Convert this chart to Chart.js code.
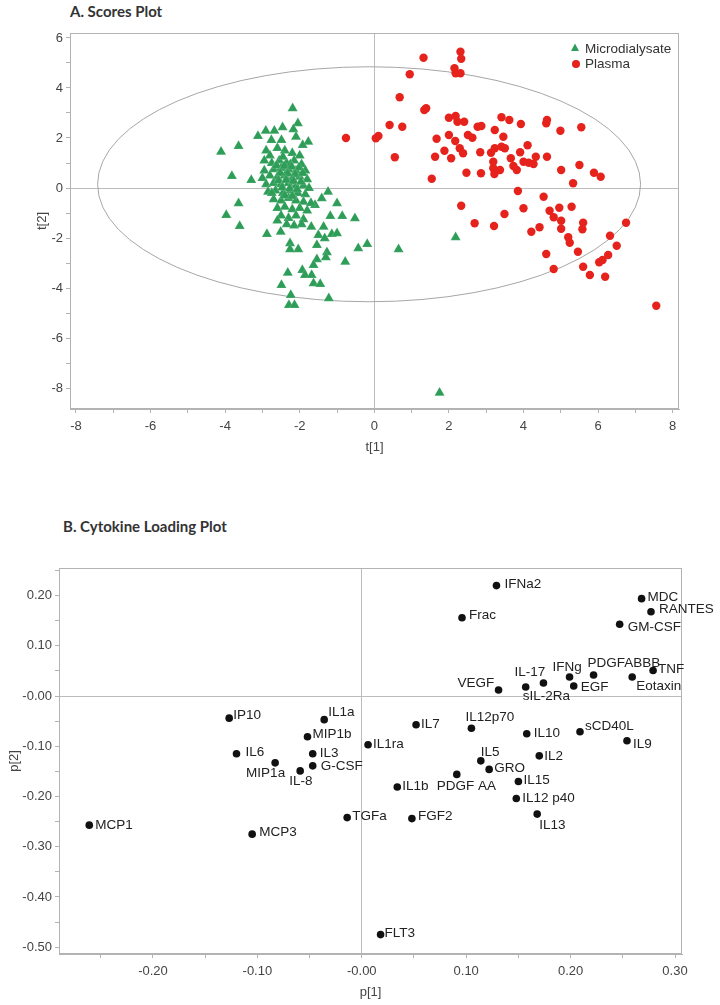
<!doctype html>
<html lang="en">
<head>
  <meta charset="utf-8">
  <title>Scores Plot &amp; Cytokine Loading Plot</title>
  <style>
    html, body { margin: 0; padding: 0; background: #fff; }
    body {
      position: relative;
      width: 720px;
      height: 1005px;
      overflow: hidden;
      font-family: 'Liberation Sans', Arial, sans-serif;
    }
    .panel-title {
      position: absolute;
      font-family: Lato, 'Open Sans', sans-serif;
      font-weight: 700;
      font-size: 15px;
      line-height: 18px;
      color: #333;
      white-space: nowrap;
    }
    .chart-box { position: absolute; left: 0; width: 720px; }
    #boxA { top: 0; height: 460px; }
    #boxB { top: 500px; height: 505px; }
  </style>
</head>
<body>

  <div class="panel-title" style="left:70px; top:2px">A. Scores Plot</div>
  <div class="panel-title" style="left:63px; top:517px">B. Cytokine Loading Plot</div>

  <div class="chart-box" id="boxA"><canvas id="scoresChart"></canvas></div>
  <div class="chart-box" id="boxB"><canvas id="loadingChart"></canvas></div>

  <script src="https://cdn.jsdelivr.net/npm/chart.js"></script>
  <script>
    // ---- A. scores (t[1], t[2]) ----
    const microT1 = [
      -2.19, -2.05, -2.17, -2.91, -2.68, -2.46, -3.12, -3.64, -4.11, -2.76, -2.49, -2.10, -1.77, -1.92,
      -3.82, -3.30, -3.64, -3.97, -3.61, -2.88, -2.51, -1.24, -1.41, -1.00, -1.59, -0.86, -0.52, -1.18,
      -1.36, -1.69, -1.14, -1.00, -1.50, -1.33, -2.26, -2.04, -2.26, -1.54, -0.43, -1.27, -1.30, -1.54,
      -0.78, -1.63, -1.93, -2.32, -1.86, -1.68, -1.63, -1.45, -2.49, -2.24, -1.22, -2.29, -2.14, -0.19,
      0.65, 2.18, 1.75,
      -2.90, -2.80, -2.60, -2.40, -2.20, -2.00, -2.75, -2.55, -2.35, -2.15, -1.95, -1.85, -2.95, -2.70,
      -2.50, -2.30, -2.10, -3.00, -2.80, -2.60, -2.40, -2.20, -2.00, -1.80, -2.90, -2.70, -2.50, -2.30,
      -2.10, -1.90, -2.85, -2.65, -2.45, -2.25, -2.05, -1.85, -2.70, -2.50, -2.30, -2.10, -1.90, -2.60,
      -2.40, -2.20, -2.00, -1.80, -2.50, -2.30, -2.10, -1.90, -2.35, -2.15, -1.95, -2.60, -2.75, -2.95,
      -1.75, -1.70, -2.45, -2.25,
      -2.62, -2.42, -2.22, -2.02, -2.52, -2.32, -2.12, -1.92, -2.57, -2.37, -2.17, -1.97, -2.47, -2.27,
      -2.07, -2.40, -2.20
    ];
    const microT2 = [
      3.19, 2.59, 2.35, 2.29, 2.29, 2.43, 2.08, 1.68, 1.45, 1.92, 1.92, 2.05, 1.85, 1.72,
      0.48, 0.32, -0.61, -1.08, -1.52, -1.84, -1.75, -0.15, -0.41, -0.61, -0.68, -1.12, -1.21, -1.12,
      -1.55, -1.55, -1.84, -1.81, -1.88, -2.01, -2.21, -2.45, -2.45, -2.28, -2.41, -2.57, -2.77, -2.85,
      -2.95, -3.08, -3.28, -3.39, -3.48, -3.48, -3.81, -3.84, -3.88, -4.28, -4.41, -4.68, -4.68, -2.24,
      -2.45, -1.97, -8.19,
      1.50, 1.30, 1.60, 1.50, 1.40, 1.30, 1.00, 1.10, 1.00, 1.10, 0.95, 0.70, 0.70, 0.75,
      0.80, 0.75, 0.70, 0.40, 0.50, 0.45, 0.50, 0.40, 0.45, 0.35, 0.15, 0.20, 0.15, 0.20,
      0.10, 0.10, -0.15, -0.10, -0.20, -0.10, -0.20, -0.25, -0.45, -0.50, -0.40, -0.50, -0.55, -0.80,
      -0.75, -0.85, -0.80, -0.90, -1.10, -1.20, -1.10, -1.25, -1.45, -1.50, -1.45, -1.30, -0.20, 1.10,
      0.00, -0.60, 1.25, 0.95,
      0.90, 0.88, 0.85, 0.82, 0.60, 0.58, 0.55, 0.60, 0.30, 0.32, 0.28, 0.25, 0.02, -0.02,
      -0.05, -0.30, -0.32
    ];
    const plasmaT1 = [
      1.32, 2.31, 2.33, 2.15, 2.31, 2.18, 0.95, 0.68, 1.34, 1.39, 0.41, 0.75, 0.04, 0.11, 0.55, 1.54,
      2.00, 2.18, 2.23, 2.41, 1.67, 2.00, 2.17, 2.51, 2.63, 2.77, 2.87, 3.23, 3.41, 3.46, 1.88, 2.29,
      2.38, 1.63, 2.06, 2.84, 3.13, 3.23, 3.41, 3.50, 3.19, 3.19, 3.22, 3.37, 2.47, 2.86, 2.33, 2.69,
      3.21, 3.49, -0.76,
      3.62, 3.93, 4.63, 4.61, 4.99, 5.55, 4.11, 3.91, 3.66, 3.73, 3.82, 4.00, 4.14, 4.27, 4.33, 4.63,
      5.01, 5.50, 5.89, 6.07, 5.33, 3.85, 4.54, 4.00, 4.70, 4.96, 5.29, 4.81, 5.01, 5.60, 5.58, 5.01,
      4.43, 4.21, 6.75, 5.20, 5.24, 6.32, 6.50, 5.46, 4.61, 6.27, 6.12, 6.03, 4.81, 5.60, 5.78, 6.19,
      7.56
    ];
    const plasmaT2 = [
      5.21, 5.45, 5.17, 4.79, 4.59, 4.59, 4.55, 3.63, 3.12, 3.19, 2.52, 2.45, 1.99, 2.08, 1.23, 0.37,
      2.81, 2.88, 2.65, 2.65, 1.97, 2.12, 1.88, 2.12, 2.01, 2.45, 2.48, 2.32, 2.83, 2.05, 1.49, 1.59,
      1.39, 1.25, 1.19, 1.43, 1.41, 1.59, 1.65, 1.59, 1.05, 0.79, 0.56, 0.72, 0.61, 0.59, -0.71, -1.41,
      -1.52, -1.04, 2.00,
      2.72, 2.56, 2.72, 2.59, 2.29, 2.43, 1.71, 1.43, 1.19, 0.88, 0.72, 1.05, 1.01, 0.96, 1.25, 1.25,
      0.72, 0.92, 0.61, 0.45, 0.19, -0.12, -0.35, -0.81, -0.91, -0.79, -0.75, -1.17, -1.31, -1.39, -1.65, -1.63,
      -1.57, -1.75, -1.39, -1.97, -2.19, -1.91, -2.31, -2.55, -2.64, -2.68, -2.88, -2.97, -3.24, -3.15, -3.48, -3.55,
      -4.71
    ];
    // Hotelling T2 ellipse (centre, semi-axes) in t units
    const ellipseCentre = [-0.14, 0.15];
    const ellipseRadii  = [7.28, 4.70];

    // ---- B. loadings (p[1], p[2]) ----
    const cytokines = [
      'IP10', 'IL1a', 'MIP1b', 'IL6', 'IL3', 'MIP1a', 'G-CSF', 'IL-8', 'MCP1', 'MCP3', 'TGFa',
      'IFNa2', 'MDC', 'RANTES', 'Frac', 'GM-CSF', 'TNF', 'PDGFABBB', 'IFNg', 'Eotaxin', 'IL-17',
      'EGF', 'sIL-2Ra', 'VEGF', 'IL7', 'IL12p70', 'sCD40L', 'IL10', 'IL9', 'IL1ra', 'IL2', 'IL5',
      'GRO', 'PDGF AA', 'IL15', 'IL1b', 'IL12 p40', 'IL13', 'FGF2', 'FLT3'
    ];
    const loadP1 = [
      -0.127, -0.036, -0.052, -0.120, -0.047, -0.083, -0.047, -0.059, -0.261, -0.105, -0.014,
      0.129, 0.268, 0.277, 0.096, 0.247, 0.279, 0.222, 0.199, 0.259, 0.174,
      0.203, 0.157, 0.131, 0.052, 0.105, 0.209, 0.158, 0.254, 0.006, 0.170, 0.114,
      0.122, 0.091, 0.150, 0.034, 0.148, 0.168, 0.048, 0.018
    ];
    const loadP2 = [
      -0.044, -0.047, -0.081, -0.115, -0.115, -0.133, -0.139, -0.149, -0.257, -0.275, -0.242,
      0.220, 0.194, 0.168, 0.156, 0.143, 0.051, 0.042, 0.038, 0.038, 0.026,
      0.020, 0.018, 0.012, -0.057, -0.064, -0.071, -0.075, -0.089, -0.097, -0.119, -0.129,
      -0.146, -0.156, -0.170, -0.181, -0.204, -0.235, -0.244, -0.475
    ];
    // where each name sits relative to its dot, px [dx, dy] (text left edge, middle)
    const labelOffsets = [
      [4, -3], [4, -7], [5, -2], [9, -2], [7, -1], [-29, 10], [8, 0], [-11, 10], [6, 0], [7, -2], [5, -1],
      [8, -1], [6, -1], [8, -2], [7, -2], [8, 3], [5, -1], [-6, -12], [-17, -10], [4, 9], [-29, -11],
      [7, 1], [-3, 9], [-41, -7], [5, 0], [-6, -11], [5, -5], [7, 0], [6, 4], [5, 0], [5, 0], [0, -9],
      [5, -1], [-20, 12], [5, -1], [5, -1], [6, 0], [2, 11], [6, -2], [4, -1]
    ];

    const FONT = "'Liberation Sans', Arial, sans-serif";
    Chart.defaults.font.family = FONT;
    Chart.defaults.font.size = 13;
    Chart.defaults.color = '#444';

    const AXIS = '#b3b3b3';
    const ZERO = '#bcbcbc';

    const frame = {
      id: 'frame',
      beforeDatasetsDraw(chart) {
        const { ctx, chartArea: a } = chart;
        ctx.save();
        ctx.strokeStyle = AXIS;
        ctx.lineWidth = 1;
        ctx.strokeRect(a.left + 0.5, a.top + 0.5, a.right - a.left - 1, a.bottom - a.top - 1);
        ctx.restore();
      }
    };

    const hotelling = {
      id: 'hotelling',
      beforeDatasetsDraw(chart) {
        const { ctx, scales: { x, y } } = chart;
        const cx = x.getPixelForValue(ellipseCentre[0]);
        const cy = y.getPixelForValue(ellipseCentre[1]);
        const rx = x.getPixelForValue(ellipseCentre[0] + ellipseRadii[0]) - cx;
        const ry = cy - y.getPixelForValue(ellipseCentre[1] + ellipseRadii[1]);
        ctx.save();
        ctx.beginPath();
        ctx.ellipse(cx, cy, rx, ry, 0, 0, Math.PI * 2);
        ctx.strokeStyle = '#a6a6a6';
        ctx.lineWidth = 1;
        ctx.stroke();
        ctx.restore();
      }
    };

    const insideLegend = {
      id: 'insideLegend',
      afterDraw(chart) {
        const ctx = chart.ctx;
        const ds = chart.data.datasets;
        ctx.save();
        // triangle
        ctx.fillStyle = ds[0].backgroundColor;
        ctx.beginPath();
        ctx.moveTo(575, 43.5);
        ctx.lineTo(579, 51);
        ctx.lineTo(571, 51);
        ctx.closePath();
        ctx.fill();
        // circle
        ctx.fillStyle = ds[1].backgroundColor;
        ctx.beginPath();
        ctx.arc(576, 64, 4, 0, Math.PI * 2);
        ctx.fill();
        ctx.fillStyle = '#333';
        ctx.font = '13.5px ' + FONT;
        ctx.textBaseline = 'middle';
        ctx.fillText(ds[0].label, 585, 49);
        ctx.fillText(ds[1].label, 585, 64);
        ctx.restore();
      }
    };

    const pointNames = {
      id: 'pointNames',
      afterDatasetsDraw(chart) {
        const ctx = chart.ctx;
        const meta = chart.getDatasetMeta(0);
        ctx.save();
        ctx.fillStyle = '#222';
        ctx.font = '13.5px ' + FONT;
        ctx.textBaseline = 'middle';
        ctx.textAlign = 'left';
        meta.data.forEach((pt, i) => {
          const [dx, dy] = labelOffsets[i];
          ctx.fillText(cytokines[i], pt.x + dx, pt.y + dy);
        });
        ctx.restore();
      }
    };

    function axis(opts) {
      return {
        type: 'linear',
        min: opts.min,
        max: opts.max,
        border: { display: true, color: AXIS, width: 1 },
        grid: {
          color: c => (c.tick && Math.abs(c.tick.value) < 1e-9) ? ZERO : 'rgba(0,0,0,0)',
          tickColor: AXIS,
          tickLength: 4,
          drawTicks: true
        },
        ticks: {
          stepSize: opts.step,
          includeBounds: false,
          autoSkip: false,
          maxRotation: 0,
          color: '#444',
          font: { size: 13 },
          padding: opts.pad,
          callback: opts.label
        },
        title: {
          display: true,
          text: opts.title,
          color: '#444',
          font: { size: 13 },
          padding: { top: 4, bottom: 4 }
        },
        afterFit: opts.fit
      };
    }

    const evenOnly = v => (Math.round(v) % 2 === 0 ? String(Math.round(v)) : '');
    const tenths = v => {
      const k = Math.round(v * 100);
      if (k % 10 !== 0) return '';
      return k === 0 ? '-0.00' : (k / 100).toFixed(2);
    };

    new Chart(document.getElementById('scoresChart'), {
      type: 'scatter',
      data: {
        datasets: [
          {
            label: 'Microdialysate',
            data: microT1.map((x, i) => ({ x, y: microT2[i] })),
            pointStyle: 'triangle',
            pointRadius: 5.8,
            backgroundColor: '#2e9d58',
            borderColor: 'rgba(255,255,255,0.35)',
            borderWidth: 0.4
          },
          {
            label: 'Plasma',
            data: plasmaT1.map((x, i) => ({ x, y: plasmaT2[i] })),
            pointStyle: 'circle',
            pointRadius: 4.2,
            backgroundColor: '#e5231c',
            borderWidth: 0
          }
        ]
      },
      options: {
        responsive: true,
        maintainAspectRatio: false,
        animation: false,
        layout: { padding: { left: 31, top: 33, right: 41, bottom: 1 } },
        plugins: { legend: { display: false }, tooltip: { enabled: false } },
        scales: {
          x: axis({ min: -8.16, max: 8.17, step: 1, pad: 6, label: evenOnly, title: 't[1]',
                    fit: s => { s.height = 50; } }),
          y: axis({ min: -8.84, max: 6.2, step: 1, pad: 3, label: evenOnly, title: 't[2]',
                    fit: s => { s.width = 39; } })
        }
      },
      plugins: [frame, hotelling, insideLegend]
    });

    new Chart(document.getElementById('loadingChart'), {
      type: 'scatter',
      data: {
        datasets: [{
          label: 'Cytokines',
          data: loadP1.map((x, i) => ({ x, y: loadP2[i] })),
          pointStyle: 'circle',
          pointRadius: 3.8,
          backgroundColor: '#111',
          borderWidth: 0
        }]
      },
      options: {
        responsive: true,
        maintainAspectRatio: false,
        animation: false,
        layout: { padding: { left: 3, top: 68, right: 38, bottom: 1 } },
        plugins: { legend: { display: false }, tooltip: { enabled: false } },
        scales: {
          x: axis({ min: -0.29, max: 0.3067, step: 0.05, pad: 6, label: tenths, title: 'p[1]',
                    fit: s => { s.height = 50; } }),
          y: axis({ min: -0.5136, max: 0.255, step: 0.05, pad: 3, label: tenths, title: 'p[2]',
                    fit: s => { s.width = 56; } })
        }
      },
      plugins: [frame, pointNames]
    });
  </script>

</body>
</html>
